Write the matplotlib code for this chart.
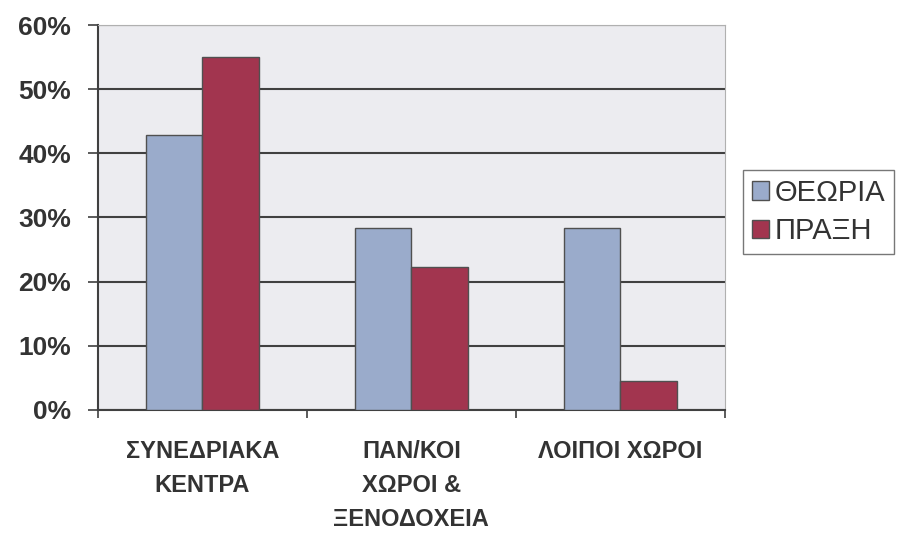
import matplotlib.pyplot as plt
import numpy as np
from matplotlib.ticker import PercentFormatter

categories = ['ΣΥΝΕΔΡΙΑΚΑ\nΚΕΝΤΡΑ', 'ΠΑΝ/ΚΟΙ\nΧΩΡΟΙ &\nΞΕΝΟΔΟΧΕΙΑ', 'ΛΟΙΠΟΙ ΧΩΡΟΙ']
theory = [42.8, 28.3, 28.4]   # ΘΕΩΡΙΑ
practice = [55.0, 22.2, 4.5]  # ΠΡΑΞΗ
series_names = ['ΘΕΩΡΙΑ', 'ΠΡΑΞΗ']

plt.rcParams['font.family'] = ['Liberation Sans', 'DejaVu Sans']

fig = plt.figure(figsize=(9.05, 5.45), dpi=100)
ax = fig.add_axes([0.108, 0.248, 0.693, 0.706])
ax.set_facecolor('#ececf0')

x = np.arange(len(categories))
w = 0.27
ax.bar(x - w/2, theory, w, color='#9aabcb', edgecolor='#505050', linewidth=1.0,
       label=series_names[0], zorder=3)
ax.bar(x + w/2, practice, w, color='#a2354f', edgecolor='#505050', linewidth=1.0,
       label=series_names[1], zorder=3)

ax.set_ylim(0, 60)
ax.set_xlim(-0.5, 2.5)
ax.set_yticks(np.arange(0, 61, 10))
ax.yaxis.set_major_formatter(PercentFormatter(decimals=0))
ax.yaxis.grid(True, color='#404040', linewidth=1.5, zorder=1)

# category ticks on the boundaries, labels centred under groups
ax.set_xticks([-0.5, 0.5, 1.5, 2.5])
ax.set_xticklabels([])
ax.set_xticks(x, minor=True)
ax.set_xticklabels(categories, minor=True, fontsize=17, fontweight='bold',
                   color='#333333', linespacing=1.6, va='top')
ax.tick_params(axis='x', which='minor', length=0, pad=22)
ax.tick_params(axis='x', which='major', length=6, width=1.2, color='#404040')
ax.tick_params(axis='y', length=7, width=1.2, color='#404040', labelsize=19,
               labelcolor='#333333', pad=12)
for lbl in ax.get_yticklabels():
    lbl.set_fontweight('bold')

for side in ['top', 'right']:
    ax.spines[side].set_color('#b0b0b0')
for side in ['left', 'bottom']:
    ax.spines[side].set_color('#404040')
    ax.spines[side].set_linewidth(1.5)

leg = fig.legend(loc='center left', bbox_to_anchor=(0.821, 0.611), fontsize=21,
                 frameon=True, fancybox=False, edgecolor='#555555',
                 handlelength=0.6, handleheight=0.6, handletextpad=0.2,
                 borderpad=0.3, labelspacing=0.35, borderaxespad=0)
for t in leg.get_texts():
    t.set_color('#333333')

fig.savefig('out.png', dpi=100)
